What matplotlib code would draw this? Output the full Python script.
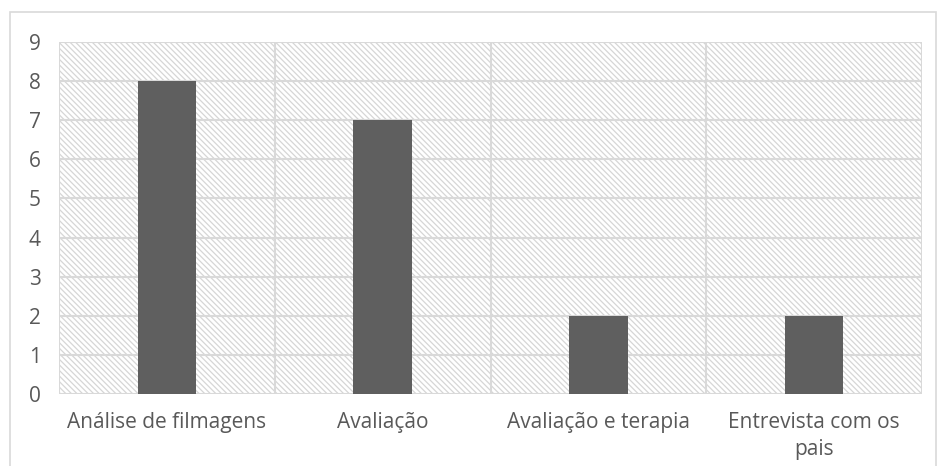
import matplotlib
matplotlib.use("Agg")
import matplotlib.pyplot as plt
from matplotlib.patches import Rectangle

categories = ["Análise de filmagens", "Avaliação", "Avaliação e terapia", "Entrevista com os\npais"]
values = [8, 7, 2, 2]
y_ticks = list(range(0, 10))

text_color = "#595959"
grid_color = "#d9d9d9"
bar_color = "#5f5f5f"

plt.rcParams["font.family"] = ["Open Sans", "DejaVu Sans"]
plt.rcParams["hatch.color"] = "#d6d6d6"
plt.rcParams["hatch.linewidth"] = 0.9

fig = plt.figure(figsize=(9.38, 4.66), dpi=100)
fig.patch.set_facecolor("white")

# outer chart frame
fig.patches.append(Rectangle((10 / 938, -0.01), 926 / 938, (466 - 12) / 466 + 0.01,
                             transform=fig.transFigure, fill=False,
                             edgecolor=grid_color, linewidth=1.2))

ax = fig.add_axes([59 / 938, 72 / 466, (922 - 59) / 938, (394 - 42) / 466])
n = len(categories)
ax.set_xlim(-0.5, n - 0.5)
ax.set_ylim(0, 9)

# hatched plot area background
ax.add_patch(Rectangle((0, 0), 1, 1, transform=ax.transAxes, facecolor="white",
                       hatch="\\" * 6, edgecolor="#d6d6d6", linewidth=0, zorder=0))

# gridlines
for y in y_ticks:
    ax.axhline(y, color=grid_color, linewidth=1.5, zorder=1)
for x in [i + 0.5 for i in range(-1, n)]:
    ax.axvline(x, color=grid_color, linewidth=1.5, zorder=1)

ax.bar(range(n), values, width=0.27, color=bar_color, zorder=2)

for s in ax.spines.values():
    s.set_visible(False)

ax.set_yticks(y_ticks)
ax.set_yticklabels([str(v) for v in y_ticks])
ax.set_xticks(range(n))
ax.set_xticklabels(categories, linespacing=1.35)
ax.tick_params(axis="both", length=0, labelsize=15, labelcolor=text_color)
ax.tick_params(axis="y", pad=13)
ax.tick_params(axis="x", pad=13)

fig.savefig("out.png", dpi=100, facecolor="white")
